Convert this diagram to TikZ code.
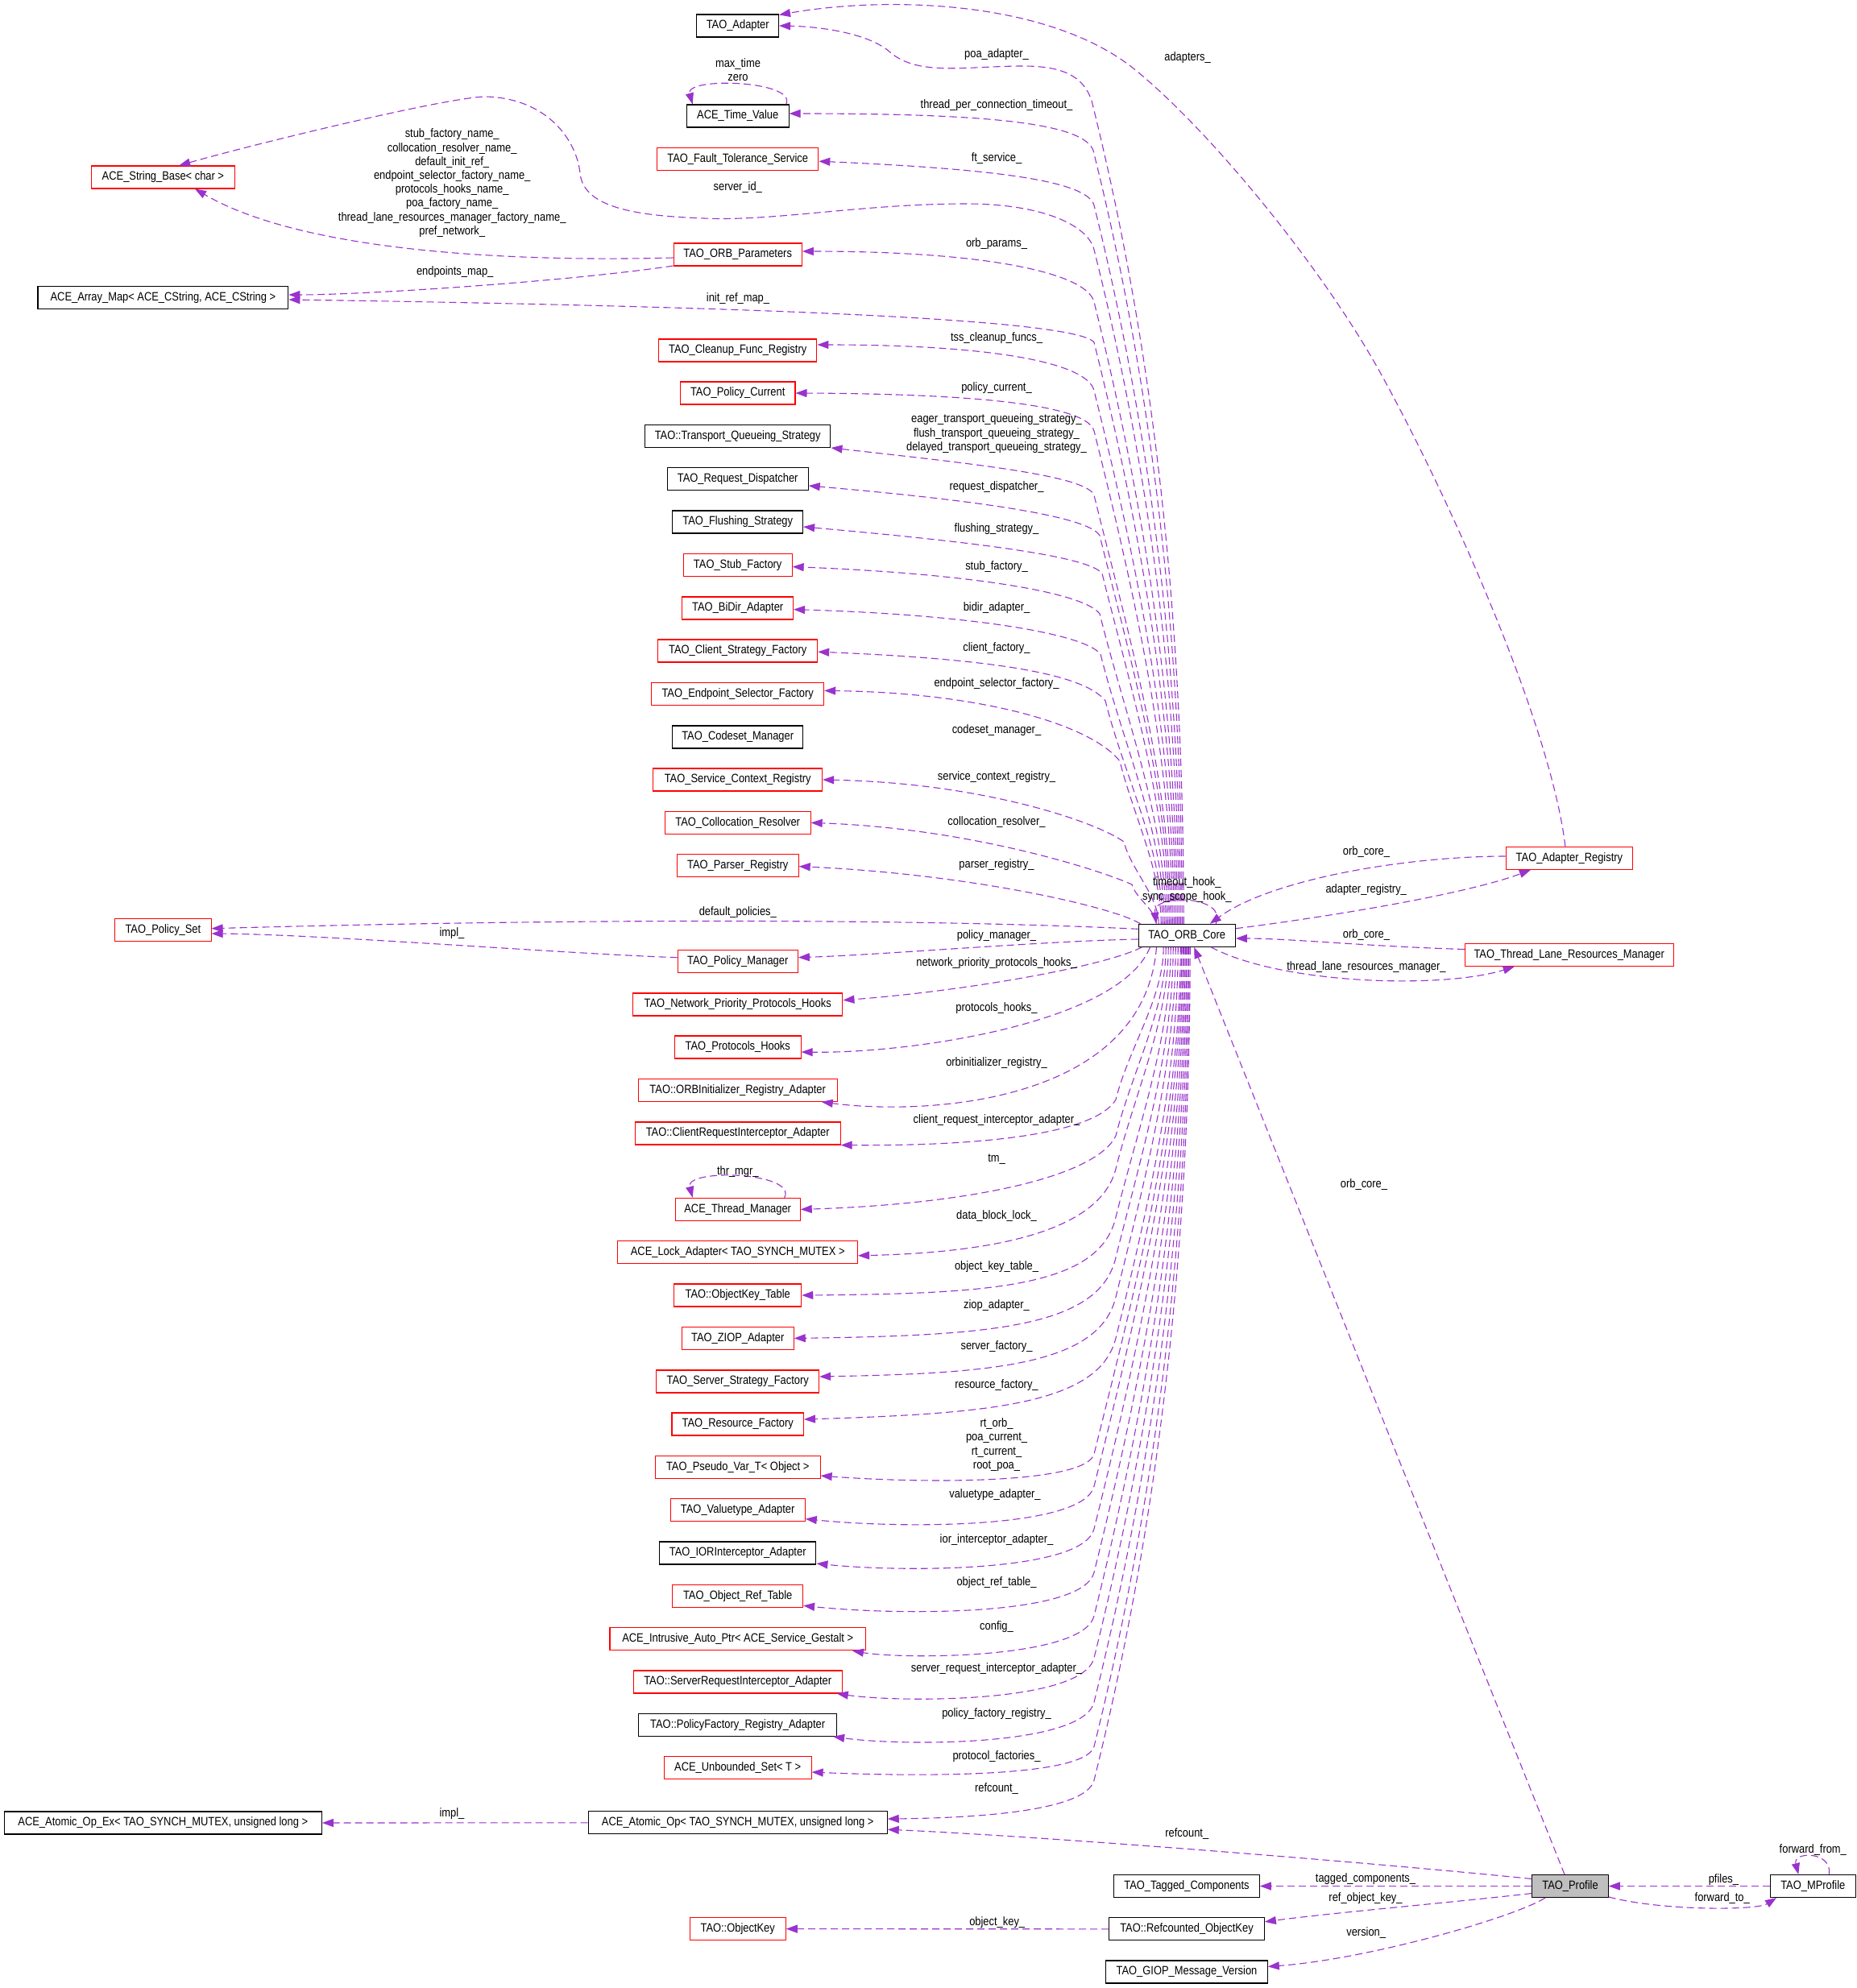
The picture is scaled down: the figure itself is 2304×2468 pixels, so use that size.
\documentclass[tikz,border=0pt]{standalone}
\usepackage{fontspec}
\setmainfont{Liberation Sans}[FakeStretch=0.86]
\usetikzlibrary{arrows.meta,calc}
\definecolor{edgecol}{HTML}{9A32CD}
\definecolor{profgray}{HTML}{BFBFBF}
\newcommand\nodefont{\fontsize{7.5pt}{8.6pt}\selectfont}
\newcommand\upE[6]{\draw[edge] ($(core.north)+(#1,0)$) .. controls +(0,{-(1147-#3)/3}) and +({0.083*(1147-#3)},{(1147-#3)/3}) .. (#2,#3) .. controls (#4) and (#5) .. (#6);}
\newcommand\dnE[6]{\draw[edge] ($(core.south)+(#1,0)$) .. controls +(0,{(#3-1175)/3}) and +({0.083*(#3-1175)},{-(#3-1175)/3}) .. (#2,#3) .. controls (#4) and (#5) .. (#6);}
\tikzset{
 box/.style={draw=black, line width=0.55pt, minimum height=14pt, inner sep=0pt, font=\nodefont, fill=white},
 rbox/.style={box, draw=red},
 lbl/.style={font=\nodefont, inner sep=0pt, text height=5.4pt, text depth=0pt},
 mlbl/.style={font=\nodefont, inner sep=0pt, align=center},
 edge/.style={draw=edgecol, line width=0.55pt, dash pattern=on 4.5pt off 2.5pt, -{Triangle[length=7pt,width=5pt]}},
}
\begin{document}
\begin{tikzpicture}[x=0.5pt,y=-0.5pt]
\useasboundingbox (0,0) rectangle (2304,2468);
\fill[white] (0,0) rectangle (2304,2468);
% ---------------- nodes
\node[box,minimum width=50.8pt] (adapter) at (915.7,32) {TAO\_Adapter};
\node[box,minimum width=63.4pt] (timeval) at (915.7,144) {ACE\_Time\_Value};
\node[rbox,minimum width=100.1pt] (ft) at (915.7,197.2) {TAO\_Fault\_Tolerance\_Service};
\node[rbox,minimum width=79.6pt] (orbparams) at (915.7,316) {TAO\_ORB\_Parameters};
\node[rbox,minimum width=98.2pt] (cleanup) at (915.7,435) {TAO\_Cleanup\_Func\_Registry};
\node[rbox,minimum width=71.25pt] (polcur) at (915.7,488) {TAO\_Policy\_Current};
\node[box,minimum width=115.2pt] (tqs) at (915.7,541.4) {TAO::Transport\_Queueing\_Strategy};
\node[box,minimum width=87.5pt] (reqdisp) at (915.7,594.5) {TAO\_Request\_Dispatcher};
\node[box,minimum width=80.85pt] (flush) at (915.7,648) {TAO\_Flushing\_Strategy};
\node[rbox,minimum width=67.4pt] (stub) at (915.7,701.6) {TAO\_Stub\_Factory};
\node[rbox,minimum width=68.8pt] (bidir) at (915.7,755) {TAO\_BiDir\_Adapter};
\node[rbox,minimum width=98.9pt] (client) at (915.7,808) {TAO\_Client\_Strategy\_Factory};
\node[rbox,minimum width=106.95pt] (endpoint) at (915.7,861.4) {TAO\_Endpoint\_Selector\_Factory};
\node[box,minimum width=81.2pt] (codeset) at (915.7,915) {TAO\_Codeset\_Manager};
\node[rbox,minimum width=104.85pt] (svcctx) at (915.7,968) {TAO\_Service\_Context\_Registry};
\node[rbox,minimum width=90.4pt] (colloc) at (915.7,1021.4) {TAO\_Collocation\_Resolver};
\node[rbox,minimum width=75.45pt] (parser) at (915.7,1074.6) {TAO\_Parser\_Registry};
\node[rbox,minimum width=74.6pt] (polmgr) at (915.7,1193.6) {TAO\_Policy\_Manager};
\node[rbox,minimum width=130.2pt] (npph) at (915.7,1247) {TAO\_Network\_Priority\_Protocols\_Hooks};
\node[rbox,minimum width=78.35pt] (prothooks) at (915.7,1300) {TAO\_Protocols\_Hooks};
\node[rbox,minimum width=123.5pt] (orbinit) at (915.7,1353.4) {TAO::ORBInitializer\_Registry\_Adapter};
\node[rbox,minimum width=127.45pt] (cri) at (915.7,1407) {TAO::ClientRequestInterceptor\_Adapter};
\node[rbox,minimum width=77.5pt] (thrmgr) at (915.7,1501.4) {ACE\_Thread\_Manager};
\node[rbox,minimum width=148.8pt] (lockad) at (915.7,1554.8) {ACE\_Lock\_Adapter< TAO\_SYNCH\_MUTEX >};
\node[rbox,minimum width=79pt] (oktable) at (915.7,1608) {TAO::ObjectKey\_Table};
\node[rbox,minimum width=69.5pt] (ziop) at (915.7,1661.4) {TAO\_ZIOP\_Adapter};
\node[rbox,minimum width=100.9pt] (srvstrat) at (915.7,1715) {TAO\_Server\_Strategy\_Factory};
\node[rbox,minimum width=81.75pt] (resfac) at (915.7,1768) {TAO\_Resource\_Factory};
\node[rbox,minimum width=102.4pt] (pseudo) at (915.7,1821.4) {TAO\_Pseudo\_Var\_T< Object >};
\node[rbox,minimum width=83.55pt] (valuetype) at (915.7,1874.6) {TAO\_Valuetype\_Adapter};
\node[box,minimum width=97.2pt] (iorint) at (915.7,1928) {TAO\_IORInterceptor\_Adapter};
\node[rbox,minimum width=80.85pt] (objref) at (915.7,1981.3) {TAO\_Object\_Ref\_Table};
\node[rbox,minimum width=158.75pt] (intrusive) at (915.7,2034.8) {ACE\_Intrusive\_Auto\_Ptr< ACE\_Service\_Gestalt >};
\node[rbox,minimum width=129.55pt] (sri) at (915.7,2088) {TAO::ServerRequestInterceptor\_Adapter};
\node[box,minimum width=122.9pt] (polfac) at (915.7,2141.3) {TAO::PolicyFactory\_Registry\_Adapter};
\node[rbox,minimum width=91.4pt] (unbounded) at (915.7,2194.4) {ACE\_Unbounded\_Set< T >};
\node[box,minimum width=185.5pt] (atomicop) at (915.7,2262.8) {ACE\_Atomic\_Op< TAO\_SYNCH\_MUTEX, unsigned long >};
\node[rbox,minimum width=59.5pt] (objkey) at (915.7,2394.6) {TAO::ObjectKey};
\node[rbox,minimum width=88.75pt] (strbase) at (202.4,220) {ACE\_String\_Base< char >};
\node[box,minimum width=155.4pt] (arraymap) at (202.4,369.4) {ACE\_Array\_Map< ACE\_CString, ACE\_CString >};
\node[rbox,minimum width=59.65pt] (polset) at (202.4,1154.7) {TAO\_Policy\_Set};
\node[box,minimum width=197pt] (atomicex) at (202.3,2263) {ACE\_Atomic\_Op\_Ex< TAO\_SYNCH\_MUTEX, unsigned long >};
\node[box,minimum width=60.15pt] (core) at (1473.2,1161.3) {TAO\_ORB\_Core};
\node[rbox,minimum width=78.85pt] (adreg) at (1947.9,1065.4) {TAO\_Adapter\_Registry};
\node[rbox,minimum width=129.35pt] (tlrm) at (1947.7,1185.5) {TAO\_Thread\_Lane\_Resources\_Manager};
\node[box,minimum width=90.3pt] (tagged) at (1473,2341.5) {TAO\_Tagged\_Components};
\node[box,minimum width=96.3pt] (refok) at (1473,2394.8) {TAO::Refcounted\_ObjectKey};
\node[box,minimum width=100.3pt] (giop) at (1473,2448) {TAO\_GIOP\_Message\_Version};
\node[box,fill=profgray,minimum width=47.2pt] (profile) at (1949,2341.5) {TAO\_Profile};
\node[box,minimum width=52.75pt] (mprofile) at (2250.3,2341.5) {TAO\_MProfile};
% ---------------- upper edges from TAO_ORB_Core
\draw[edge] ($(core.north)+(-4,0)$) .. controls +(0,-341) and +(85,341) .. (1355,125) .. controls (1345,95) and (1320,82) .. (1270,82) .. controls (1200,82) and (1140,95) .. (1105,65) .. controls (1080,42) and (1020,33) .. (adapter.east);
\upE{-6}{1358}{191}{1354,153}{1230,141}{[yshift=1.5pt]timeval.east}
\upE{-8}{1358}{255}{1350,225}{1240,210}{[yshift=-1.5pt]ft.east}
\draw[edge] ($(core.north)+(-10,0)$) .. controls +(0,-279) and +(70,279) .. (1358,310) .. controls (1350,278) and (1290,253) .. (1200,253) .. controls (1070,253) and (960,275) .. (874,271) .. controls (790,268) and (724,258) .. (720,215) .. controls (716,175) and (680,122) .. (603,120) .. controls (560,120) and (330,175) .. ([xshift=9.9pt]strbase.north);
\upE{-12}{1358}{375}{1350,340}{1230,312}{[yshift=2pt]orbparams.east}
\upE{-14}{1358}{425}{1335,395}{900,380}{[yshift=-1.3pt]arraymap.east}
\upE{-16}{1358}{485}{1350,450}{1230,428}{[yshift=3.5pt]cleanup.east}
\upE{-18}{1358}{535}{1350,505}{1230,489}{polcur.east}
\upE{-20}{1358}{615}{1350,590}{1200,575}{tqs.south east}
\upE{-22}{1365}{665}{1352,640}{1200,620}{[yshift=-4.25pt]reqdisp.east}
\upE{-24}{1368}{712}{1352,690}{1200,672}{[yshift=-3pt]flush.east}
\upE{-26}{1365}{762}{1345,735}{1200,712}{[yshift=-1pt]stub.east}
\upE{-28}{1366}{812}{1345,786}{1200,763}{[yshift=-0.8pt]bidir.east}
\upE{-30}{1372}{870}{1345,836}{1230,818}{[yshift=-0.6pt]client.east}
\upE{-32}{1390}{945}{1355,900}{1220,860}{[yshift=2pt]endpoint.east}
\upE{-35}{1395}{1045}{1360,1020}{1220,972}{svcctx.east}
\upE{-38}{1405}{1098}{1360,1078}{1200,1028}{colloc.east}
\draw[edge] ([xshift=1.5pt]core.north west) .. controls (1380,1125) and (1200,1085) .. ([yshift=-0.5pt]parser.east);
\draw[edge] ([yshift=4pt]core.west) .. controls (1200,1143) and (800,1138) .. ([yshift=1pt]polset.east);
\draw[edge] ([yshift=-2.35pt]core.west) .. controls (1300,1168) and (1100,1185) .. ([yshift=2.45pt]polmgr.east);
\draw[edge] ([yshift=2.45pt]polmgr.west) .. controls (700,1184) and (400,1160) .. ([yshift=-2.15pt]polset.east);
% ---------------- lower edges from TAO_ORB_Core
\draw[edge] ([xshift=2.5pt]core.south west) .. controls (1370,1200) and (1200,1230) .. ([yshift=2.65pt]npph.east);
\draw[edge] ([xshift=7.5pt]core.south west) .. controls (1390,1270) and (1130,1308) .. ([yshift=-3pt]prothooks.east);
\draw[edge] ([xshift=11.5pt]core.south west) .. controls (1420,1370) and (1150,1385) .. ([xshift=-10pt]orbinit.south east);
\dnE{-29}{1385}{1365}{1365,1400}{1260,1423}{cri.south east}
\dnE{-26}{1385}{1410}{1360,1462}{1200,1495}{thrmgr.east}
\dnE{-23}{1385}{1451}{1365,1530}{1230,1555}{[yshift=-2pt]lockad.east}
\dnE{-20}{1385}{1511}{1365,1598}{1230,1606}{oktable.east}
\dnE{-17}{1385}{1561}{1365,1648}{1230,1658}{ziop.east}
\dnE{-14}{1385}{1610}{1365,1695}{1230,1705}{[yshift=3pt]srvstrat.east}
\dnE{-11}{1385}{1661}{1365,1743}{1230,1755}{[yshift=3pt]resfac.east}
\dnE{-8}{1358}{1805}{1348,1842}{1150,1842}{[yshift=-5.3pt]pseudo.east}
\dnE{-6.5}{1358}{1845}{1345,1898}{1120,1898}{[yshift=-5.5pt]valuetype.east}
\dnE{-5}{1358}{1898}{1345,1952}{1120,1952}{[yshift=-6.5pt]iorint.east}
\dnE{-3.5}{1358}{1952}{1345,2006}{1120,2006}{[yshift=-6pt]objref.east}
\dnE{-2}{1358}{2006}{1345,2060}{1120,2060}{[xshift=-8.5pt]intrusive.south east}
\dnE{-0.5}{1358}{2058}{1345,2114}{1120,2114}{[xshift=-3.5pt]sri.south east}
\dnE{1}{1358}{2113}{1345,2168}{1120,2168}{[xshift=-2.5pt]polfac.south east}
\dnE{2.5}{1358}{2168}{1348,2206}{1150,2206}{[yshift=-2.8pt]unbounded.east}
\dnE{4}{1358}{2210}{1348,2250}{1200,2257}{[yshift=2.4pt]atomicop.east}
% ---------------- self loops
\draw[edge] ([xshift=18pt]core.north) .. controls (1525,1112) and (1430,1108) .. ([xshift=-19pt]core.north);
\draw[edge] ([xshift=30pt]timeval.north) .. controls (990,100) and (850,95) .. ([xshift=-28pt]timeval.north);
\draw[edge] ([xshift=29pt]thrmgr.north) .. controls (990,1455) and (850,1450) .. ([xshift=-28pt]thrmgr.north);
\draw[edge] ([xshift=10pt]mprofile.north) .. controls (2275,2298) and (2225,2298) .. ([xshift=-9pt]mprofile.north);
% ---------------- other edges
\draw[edge] ([yshift=-2pt]orbparams.west) .. controls (650,325) and (380,315) .. ([xshift=19.8pt]strbase.south);
\draw[edge] ([yshift=-7pt]orbparams.west) .. controls (700,350) and (450,366) .. ([yshift=1.7pt]arraymap.east);
\draw[edge] ([xshift=-2.5pt]adreg.north) .. controls (1925,900) and (1800,620) .. (1714,464) .. controls (1640,330) and (1500,160) .. (1407,85) .. controls (1300,0) and (1100,-5) .. ([yshift=-0.5pt]adapter.north east);
\draw[edge] ([yshift=1.2pt]adreg.west) .. controls (1750,1063) and (1580,1090) .. ([xshift=14.25pt]core.north);
\draw[edge] ([yshift=4.3pt]core.east) .. controls (1650,1138) and (1820,1110) .. ([xshift=-24pt]adreg.south);
\draw[edge] ([yshift=3.5pt]tlrm.west) .. controls (1700,1175) and (1600,1165) .. ([yshift=-1.85pt]core.east);
\draw[edge] ([xshift=15pt]core.south) .. controls (1590,1222) and (1790,1228) .. ([xshift=-34pt]tlrm.south);
\draw[edge] ([xshift=-3.5pt]profile.north) -- ([xshift=4.5pt]core.south);
\draw[edge] (profile.west) -- (tagged.east);
\draw[edge] ([yshift=-4.5pt]profile.west) .. controls (1800,2362) and (1650,2375) .. ([yshift=4.5pt]refok.east);
\draw[edge] ([xshift=-15.5pt]profile.south) .. controls (1880,2380) and (1700,2432) .. ([yshift=3.3pt]giop.east);
\draw[edge] ([yshift=4.5pt]profile.west) .. controls (1700,2312) and (1300,2280) .. ([yshift=-4.2pt]atomicop.east);
\draw[edge] (refok.west) -- (objkey.east);
\draw[edge] (atomicop.west) -- (atomicex.east);
\draw[edge] (mprofile.west) -- (profile.east);
\draw[edge] ([yshift=-6.7pt]profile.east) .. controls (2060,2372) and (2180,2372) .. ([xshift=4pt]mprofile.south west);
% ---------------- labels
\node[lbl] (l01) at (1237,66) {poa\_adapter\_};
\node[lbl] (l02) at (1474,70) {adapters\_};
\node[mlbl] (l03) at (916,86.75) {max\_time\\zero};
\node[lbl] (l04) at (1237,129.3) {thread\_per\_connection\_timeout\_};
\node[lbl] (l05) at (1237,195) {ft\_service\_};
\node[lbl] (l06) at (915.8,231) {server\_id\_};
\node[mlbl] (l07) at (561.2,227.25) {stub\_factory\_name\_\\collocation\_resolver\_name\_\\default\_init\_ref\_\\endpoint\_selector\_factory\_name\_\\protocols\_hooks\_name\_\\poa\_factory\_name\_\\thread\_lane\_resources\_manager\_factory\_name\_\\pref\_network\_};
\node[lbl] (l08) at (1237,301.5) {orb\_params\_};
\node[lbl] (l09) at (564.7,335.7) {endpoints\_map\_};
\node[lbl] (l10) at (916,369.5) {init\_ref\_map\_};
\node[lbl] (l11) at (1237,417.6) {tss\_cleanup\_funcs\_};
\node[lbl] (l12) at (1237,479.7) {policy\_current\_};
\node[mlbl] (l13) at (1237,538.3) {eager\_transport\_queueing\_strategy\_\\flush\_transport\_queueing\_strategy\_\\delayed\_transport\_queueing\_strategy\_};
\node[lbl] (l14) at (1237,603.5) {request\_dispatcher\_};
\node[lbl] (l15) at (1237,654.7) {flushing\_strategy\_};
\node[lbl] (l16) at (1237,701.6) {stub\_factory\_};
\node[lbl] (l17) at (1237,753.4) {bidir\_adapter\_};
\node[lbl] (l18) at (1237,803.5) {client\_factory\_};
\node[lbl] (l19) at (1237,847.5) {endpoint\_selector\_factory\_};
\node[lbl] (l20) at (1237,905.5) {codeset\_manager\_};
\node[lbl] (l21) at (1237,962.7) {service\_context\_registry\_};
\node[lbl] (l22) at (1237,1019.5) {collocation\_resolver\_};
\node[lbl] (l23) at (1237,1071.7) {parser\_registry\_};
\node[lbl] (l24) at (915.8,1130.6) {default\_policies\_};
\node[lbl] (l25) at (561,1157) {impl\_};
\node[lbl] (l26) at (1237,1160) {policy\_manager\_};
\node[lbl] (l27) at (1237,1194.5) {network\_priority\_protocols\_hooks\_};
\node[lbl] (l28) at (1237,1249.7) {protocols\_hooks\_};
\node[lbl] (l29) at (1237,1317.7) {orbinitializer\_registry\_};
\node[lbl] (l30) at (1237,1389.4) {client\_request\_interceptor\_adapter\_};
\node[lbl] (l31) at (1237,1437.5) {tm\_};
\node[lbl] (l32) at (915.8,1453.3) {thr\_mgr\_};
\node[lbl] (l33) at (1237,1507.6) {data\_block\_lock\_};
\node[lbl] (l34) at (1237,1571.4) {object\_key\_table\_};
\node[lbl] (l35) at (1237,1619.5) {ziop\_adapter\_};
\node[lbl] (l36) at (1237,1670.5) {server\_factory\_};
\node[lbl] (l37) at (1237,1717.8) {resource\_factory\_};
\node[mlbl] (l38) at (1237,1793.6) {rt\_orb\_\\poa\_current\_\\rt\_current\_\\root\_poa\_};
\node[lbl] (l39) at (1235,1854.5) {valuetype\_adapter\_};
\node[lbl] (l40) at (1237,1909.6) {ior\_interceptor\_adapter\_};
\node[lbl] (l41) at (1237,1963.5) {object\_ref\_table\_};
\node[lbl] (l42) at (1237,2017.8) {config\_};
\node[lbl] (l43) at (1237,2070.5) {server\_request\_interceptor\_adapter\_};
\node[lbl] (l44) at (1237,2125.6) {policy\_factory\_registry\_};
\node[lbl] (l45) at (1237,2178.6) {protocol\_factories\_};
\node[lbl] (l46) at (1237,2218.9) {refcount\_};
\node[lbl] (l47) at (561,2250.5) {impl\_};
\node[lbl] (l48) at (1473.3,2275.3) {refcount\_};
\node[lbl] (l49) at (1237.7,2385.5) {object\_key\_};
\node[mlbl] (l50) at (1473.3,1104.7) {timeout\_hook\_\\sync\_scope\_hook\_};
\node[lbl] (l51) at (1696,1056) {orb\_core\_};
\node[lbl] (l52) at (1695.7,1103) {adapter\_registry\_};
\node[lbl] (l53) at (1696,1159) {orb\_core\_};
\node[lbl] (l54) at (1696,1198.7) {thread\_lane\_resources\_manager\_};
\node[lbl] (l55) at (1693,1469) {orb\_core\_};
\node[lbl] (l56) at (1695,2331.3) {tagged\_components\_};
\node[lbl] (l57) at (1695,2354.7) {ref\_object\_key\_};
\node[lbl] (l58) at (1695.7,2398) {version\_};
\node[lbl] (l59) at (2139.4,2332) {pfiles\_};
\node[lbl] (l60) at (2137.7,2355) {forward\_to\_};
\node[lbl] (l61) at (2250.3,2295.5) {forward\_from\_};
\end{tikzpicture}
\end{document}
